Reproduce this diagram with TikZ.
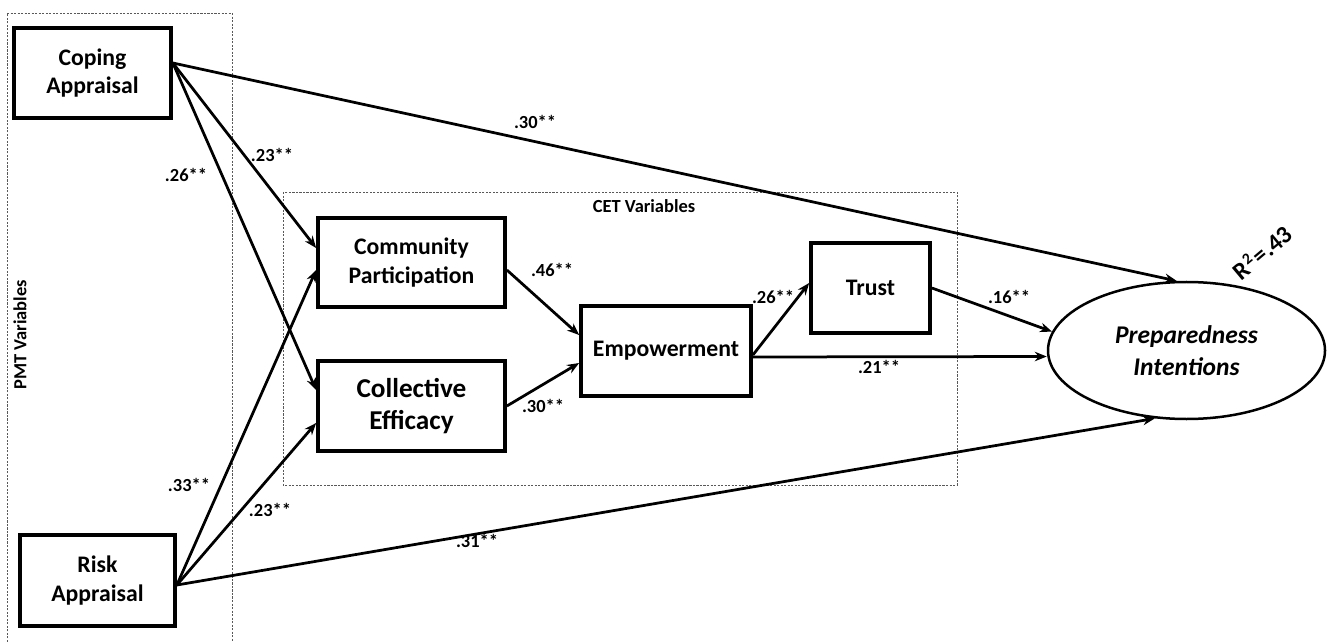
\documentclass[tikz,border=0pt]{standalone}
\usepackage{fontspec}
\setmainfont{Carlito}
\usetikzlibrary{shapes.geometric,arrows.meta}

\begin{document}
\begin{tikzpicture}[x=0.2mm, y=-0.2mm, font=\bfseries\fontsize{13.5}{16}\selectfont,
                    var/.style={draw, line width=0.75mm, align=center, inner sep=2pt},
                    lat/.style={draw, ellipse, line width=0.5mm, align=center,
                                minimum width=55.4mm, minimum height=27.4mm,
                                font=\bfseries\itshape\fontsize{14.5}{18}\selectfont},
                    p/.style={line width=0.55mm, line join=round,
                              -{Stealth[length=2.4mm, width=1.9mm]}},
                    coef/.style={font=\bfseries\fontsize{10.5}{12}\selectfont, inner sep=1pt},
                    grp/.style={gray!70!black, line width=0.35pt, dash pattern=on 1.2pt off 0.8pt}]
  \useasboundingbox (0,0) rectangle (1327,642);
  % variable groups
  \draw[grp] (7,642) -- (7,13) -- (232,13) -- (232,642);
  \draw[grp] (283,192) rectangle (957,485);
  \node[coef, rotate=90] (pmtlbl) at (20,335) {PMT Variables};
  \node[coef] (cetlbl) at (644,206) {CET Variables};
  % boxes
  \node[var, minimum width=31.4mm, minimum height=18mm] (cope) at (92.5,73) {Coping\\Appraisal};
  \node[var, minimum width=31mm, minimum height=18.2mm] (risk) at (97.5,580.5) {Risk\\Appraisal};
  \node[var, minimum width=37.4mm, minimum height=17.8mm] (cp) at (411.5,262.5) {Community\\Participation};
  \node[var, minimum width=37.4mm, minimum height=18mm, font=\bfseries\fontsize{15.5}{18.5}\selectfont] (ce) at (411.5,406) {Collective\\Efficacy};
  \node[var, minimum width=34mm, minimum height=18mm] (emp) at (666,351) {Empowerment};
  \node[var, minimum width=23.8mm, minimum height=18mm] (trust) at (870.5,288) {Trust};
  \node[lat] (pi) at (1186.5,350.5) {Preparedness\\Intentions};
  \node[rotate=40, inner sep=0pt, font=\bfseries\fontsize{14}{16}\selectfont] (rsq) at (1262,252)
    {R\kern0.6pt\raisebox{0.75ex}{\fontsize{9}{9}\selectfont 2}\kern1.2pt=.43};
  \coordinate (c0) at ([yshift=2mm]cope.east);
  \coordinate (r0) at ([yshift=-0.9mm]risk.east);
  % paths
  \draw[p] (c0) -- (pi.98);
  \draw[p] (c0) -- ([yshift=2.9mm]cp.west);
  \draw[p] (c0) -- ([yshift=3.2mm]ce.west);
  \draw[p] (r0) -- ([yshift=-1.5mm]cp.west);
  \draw[p] (r0) -- ([yshift=-3.4mm]ce.west);
  \draw[p] (r0) -- (pi.245);
  \draw[p] ([yshift=-1.5mm]cp.east) -- ([yshift=3.2mm]emp.west);
  \draw[p] (ce.east) -- ([yshift=-2.4mm]emp.west);
  \draw[p] ([yshift=-0.8mm]emp.east) -- ([yshift=1mm]trust.west);
  \draw[p] ([yshift=-1.2mm]emp.east) -- ([yshift=-1.2mm]pi.west);
  \draw[p] (trust.east) -- (pi.172);
  % coefficients
  \node[coef] (k1) at (535,122) {.30**};
  \node[coef] (k2) at (272,155) {.23**};
  \node[coef] (k3) at (186,175) {.26**};
  \node[coef] (k4) at (189,485) {.33**};
  \node[coef] (k5) at (270,510) {.23**};
  \node[coef] (k6) at (477,541) {.31**};
  \node[coef] (k7) at (552,270) {.46**};
  \node[coef] (k8) at (543,406) {.30**};
  \node[coef] (k9) at (773,297) {.26**};
  \node[coef] (k10) at (879,367) {.21**};
  \node[coef] (k11) at (1009,297) {.16**};
\end{tikzpicture}
\end{document}
